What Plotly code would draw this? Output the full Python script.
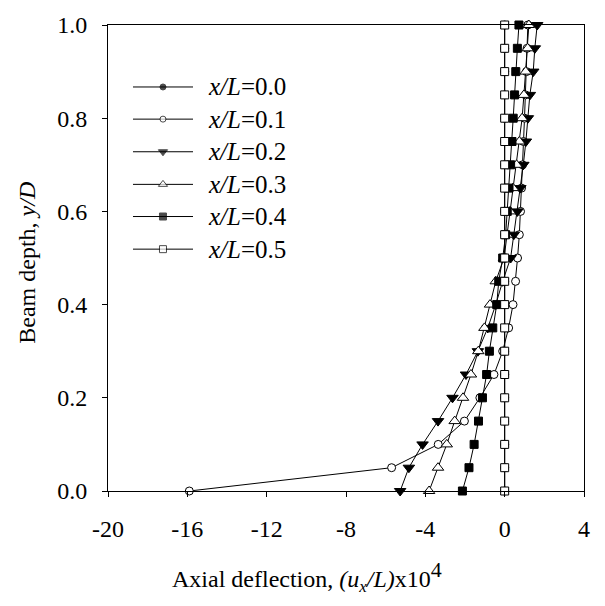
import plotly.graph_objects as go

# y/D levels
depth = [0.0, 0.05, 0.1, 0.15, 0.2, 0.25, 0.3, 0.35, 0.4, 0.45, 0.5,
         0.55, 0.6, 0.65, 0.7, 0.75, 0.8, 0.85, 0.9, 0.95, 1.0]

# Axial deflection (u_x/L)x10^4 for each section
xl_00 = [0.0] * 21
xl_01 = [-15.9, -5.7, -3.35, -2.03, -1.25, -0.54, -0.1, 0.2, 0.42, 0.55, 0.65,
         0.74, 0.8, 0.85, 0.9, 0.95, 1.0, 1.05, 1.1, 1.13, 1.17]
xl_02 = [-5.27, -4.83, -4.14, -3.36, -2.63, -1.95, -1.35, -0.85, -0.45, -0.1, 0.3,
         0.46, 0.64, 0.79, 0.94, 1.07, 1.17, 1.27, 1.44, 1.52, 1.64]
xl_03 = [-3.81, -3.36, -2.92, -2.52, -2.1, -1.7, -1.33, -1.02, -0.74, -0.45, -0.03,
         0.12, 0.27, 0.42, 0.6, 0.74, 0.88, 0.97, 1.06, 1.16, 1.22]
xl_04 = [-2.13, -1.8, -1.54, -1.32, -1.12, -0.91, -0.77, -0.6, -0.4, -0.3, -0.1,
         0.05, 0.13, 0.22, 0.3, 0.37, 0.43, 0.5, 0.56, 0.64, 0.72]
xl_05 = [0.0] * 21

labels = ["0.0", "0.1", "0.2", "0.3", "0.4", "0.5"]
series = [xl_00, xl_01, xl_02, xl_03, xl_04, xl_05]

x_ticks = [-20, -16, -12, -8, -4, 0, 4]
y_ticks = [0.0, 0.2, 0.4, 0.6, 0.8, 1.0]

styles = [
    dict(symbol="circle", color="black", size=8),
    dict(symbol="circle", color="white", size=8),
    dict(symbol="triangle-down", color="black", size=10),
    dict(symbol="triangle-up", color="white", size=10),
    dict(symbol="square", color="black", size=8),
    dict(symbol="square", color="white", size=8),
]
leg_sizes = [6, 6, 8, 8, 7, 7]

FONT = "Times New Roman, Liberation Serif, Times, serif"
FS = 24
LFS = 25

fig = go.Figure()
for vals, st in zip(series, styles):
    fig.add_trace(go.Scatter(
        x=vals, y=depth, mode="lines+markers",
        line=dict(color="black", width=1),
        marker=dict(symbol=st["symbol"], size=st["size"], color=st["color"],
                    line=dict(color="black", width=1)),
        cliponaxis=False, showlegend=False))

# custom legend drawn on an overlay axis (fractions of plot area)
leg_x0, leg_xm, leg_x1, leg_xt = 0.0525, 0.1155, 0.1786, 0.205
leg_rows = [0.867, 0.798, 0.728, 0.658, 0.589, 0.519]
annotations = []
for lab, st, ls, r in zip(labels, styles, leg_sizes, leg_rows):
    fig.add_trace(go.Scatter(
        x=[leg_x0, leg_xm, leg_x1], y=[r, r, r], mode="lines+markers",
        xaxis="x2", yaxis="y2",
        line=dict(color="black", width=1),
        marker=dict(symbol=st["symbol"], size=[0, ls, 0], color=st["color"],
                    line=dict(color="black", width=1)),
        showlegend=False, hoverinfo="skip"))
    annotations.append(dict(
        x=leg_xt, y=r, xref="paper", yref="paper", xanchor="left", yanchor="middle",
        text="<i>x/L</i>=" + lab, showarrow=False,
        font=dict(family=FONT, size=LFS, color="black")))

annotations.append(dict(
    x=0.418, y=-0.183, xref="paper", yref="paper", xanchor="center", yanchor="middle",
    text="Axial deflection, <i>(u<sub>x</sub>/L)</i>x10<sup><span style=\"font-size:22px\">4</span></sup>",
    showarrow=False,
    font=dict(family=FONT, size=FS, color="black")))
annotations.append(dict(
    x=-0.17, y=0.49, xref="paper", yref="paper", xanchor="center", yanchor="middle",
    text="Beam depth, <i>y/D</i>", showarrow=False, textangle=-90,
    font=dict(family=FONT, size=FS, color="black")))

fig.update_layout(
    width=605, height=606,
    margin=dict(l=108, r=21, t=17, b=115),
    paper_bgcolor="white", plot_bgcolor="white",
    font=dict(family=FONT, size=FS, color="black"),
    showlegend=False,
    annotations=annotations,
    xaxis=dict(range=[-20, 4], tickvals=x_ticks, ticktext=[str(v) for v in x_ticks],
               showgrid=False, zeroline=False, showline=True, linecolor="black",
               linewidth=1, mirror=True, ticks="outside", ticklen=5, tickcolor="black",
               ticklabelstandoff=11, tickfont=dict(family=FONT, size=FS)),
    yaxis=dict(range=[0, 1], tickvals=y_ticks, ticktext=["%.1f" % v for v in y_ticks],
               showgrid=False, zeroline=False, showline=True, linecolor="black",
               linewidth=1, mirror=True, ticks="outside", ticklen=5, tickcolor="black",
               ticklabelstandoff=10, tickfont=dict(family=FONT, size=FS)),
    xaxis2=dict(range=[0, 1], overlaying="x", visible=False, fixedrange=True),
    yaxis2=dict(range=[0, 1], overlaying="y", visible=False, fixedrange=True),
)

fig.write_html("out.html")
